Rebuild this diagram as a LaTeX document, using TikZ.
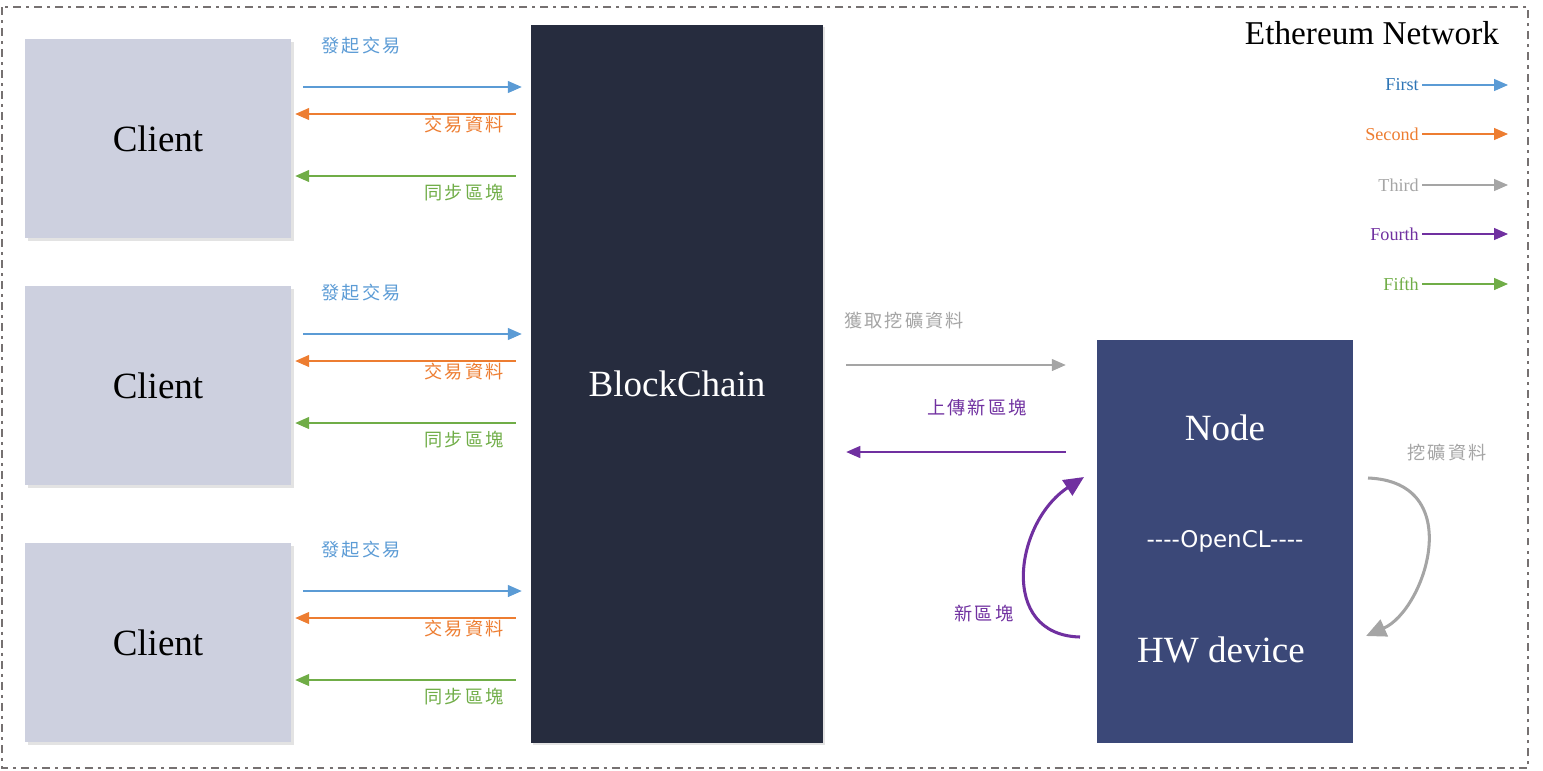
\documentclass[tikz,border=0pt]{standalone}
\usepackage{fontspec}
\setmainfont{Liberation Serif}
\newfontfamily\cjkfont[LetterSpace=12]{Noto Sans CJK TC}
\newfontfamily\codefont{DejaVu Sans}
\usetikzlibrary{arrows.meta,calc,shadows}

\definecolor{clientgray}{HTML}{CDD0DF}
\definecolor{chainnavy}{HTML}{262C3E}
\definecolor{nodeblue}{HTML}{3B4878}
\definecolor{firstblue}{HTML}{5B9BD5}
\definecolor{firsttext}{HTML}{2E75B6}
\definecolor{secondorange}{HTML}{ED7D31}
\definecolor{thirdgray}{HTML}{A5A5A5}
\definecolor{fourthpurple}{HTML}{7030A0}
\definecolor{fifthgreen}{HTML}{70AD47}
\definecolor{framegray}{HTML}{767171}

\begin{document}
\begin{tikzpicture}[x=0.03cm,y=-0.03cm]
\tikzset{
  clientbox/.style={rectangle,fill=clientgray,minimum width=7.98cm,minimum height=5.97cm,
    inner sep=0pt,font=\fontsize{31.6}{36}\selectfont,
    drop shadow={shadow xshift=0.9mm,shadow yshift=-0.9mm,opacity=0.22}},
  chainbox/.style={rectangle,fill=chainnavy,minimum width=8.76cm,minimum height=21.54cm,
    inner sep=0pt,text=white,font=\fontsize{31.6}{36}\selectfont,
    drop shadow={shadow xshift=0.7mm,shadow yshift=-0.7mm,opacity=0.22}},
  hwbox/.style={rectangle,fill=nodeblue,minimum width=7.68cm,minimum height=12.09cm,inner sep=0pt},
  hwtext/.style={text=white,font=\fontsize{31.6}{36}\selectfont},
  cjklabel/.style={font=\cjkfont\fontsize{15.5}{17}\selectfont,inner sep=0pt},
  legendtext/.style={anchor=east,inner sep=0.09cm,font=\fontsize{15.5}{18}\selectfont},
  flow/.style={line width=1.1pt,-{Triangle[length=4.2mm,width=3.6mm]}},
  loopflow/.style={line width=2.6pt,-{Triangle[length=6mm,width=5.4mm]}}
}
\useasboundingbox (0,0) rectangle (1543,770);
% network frame
\draw[framegray,line width=1.7pt,dash pattern=on 6.8pt off 4.3pt on 2.6pt off 4.3pt]
  (2,7) rectangle (1528,768);
\node[font=\fontsize{28.4}{32}\selectfont] (net_title) at (1372,33) {Ethereum Network};

% blockchain and mining node
\node[chainbox] (chain) at (677,384) {BlockChain};
\node[hwbox] (hw) at (1225,541.5) {};
\node[hwtext] (hw_node) at ($(hw.center)+(0,-113.5)$) {Node};
\node[text=white,font=\codefont\fontsize{19.6}{22}\selectfont] (hw_opencl) at (hw.center) {----OpenCL----};
\node[hwtext] (hw_dev) at ($(hw.center)+(-4,108.5)$) {HW device};

% clients
\foreach \i/\yo in {1/0,2/247,3/504} {
  \node[clientbox] (client_\i) at (158,138.5+\yo) {Client};
  \coordinate (send_\i) at ($(client_\i.east)+(12,-51.5)$);
  \coordinate (recv_\i) at ($(chain.west |- client_\i.east)+(-15,-24.5)$);
  \coordinate (sync_\i) at ($(chain.west |- client_\i.east)+(-15,37.5)$);
  \draw[flow,firstblue] (send_\i) -- ($(chain.west |- send_\i)+(-9,0)$);
  \draw[flow,secondorange] (recv_\i) -- ($(client_\i.east |- recv_\i)+(4,0)$);
  \draw[flow,fifthgreen] (sync_\i) -- ($(client_\i.east |- sync_\i)+(4,0)$);
  \node[cjklabel,text=firstblue] (lbl_send_\i) at (361,46+\yo) {發起交易};
  \node[cjklabel,text=secondorange] (lbl_recv_\i) at (464,125+\yo) {交易資料};
  \node[cjklabel,text=fifthgreen] (lbl_sync_\i) at (464,193+\yo) {同步區塊};
}

% blockchain <-> node
\coordinate (get_s) at ($(chain.east)+(23,-19)$);
\coordinate (get_e) at ($(hw.west |- get_s)+(-31,0)$);
\draw[flow,thirdgray] (get_s) -- (get_e);
\node[cjklabel,text=thirdgray] (lbl_get) at (904,321) {獲取挖礦資料};
\coordinate (up_s) at ($(hw.west)+(-31,-89.5)$);
\coordinate (up_e) at ($(chain.east |- up_s)+(23,0)$);
\draw[flow,fourthpurple] (up_s) -- (up_e);
\node[cjklabel,text=fourthpurple] (lbl_up) at (977,408) {上傳新區塊};

% mining loop
\coordinate (newblk_s) at (1080,637);
\coordinate (newblk_e) at (1084,477);
\draw[loopflow,fourthpurple] (newblk_s) .. controls (998,635) and (1015,522) .. (newblk_e);
\node[cjklabel,text=fourthpurple] (lbl_newblk) at (984,614) {新區塊};
\coordinate (mine_s) at (1368,478);
\coordinate (mine_e) at (1366,636);
\draw[loopflow,thirdgray] (mine_s) .. controls (1468,482) and (1425,610) .. (mine_e);
\node[cjklabel,text=thirdgray] (lbl_mine) at (1447,453) {挖礦資料};

% legend
\foreach \name/\txt/\col/\arr/\ly in {l_first/First/firsttext/firstblue/85,
    l_second/Second/secondorange/secondorange/134,
    l_third/Third/thirdgray/thirdgray/185,
    l_fourth/Fourth/fourthpurple/fourthpurple/234,
    l_fifth/Fifth/fifthgreen/fifthgreen/284} {
  \node[legendtext,text=\col] (\name) at (1422,\ly) {\txt};
  \coordinate (\name_end) at (1508,\ly);
  \draw[flow,\arr] (\name.east) -- (\name_end);
}
\end{tikzpicture}
\end{document}
